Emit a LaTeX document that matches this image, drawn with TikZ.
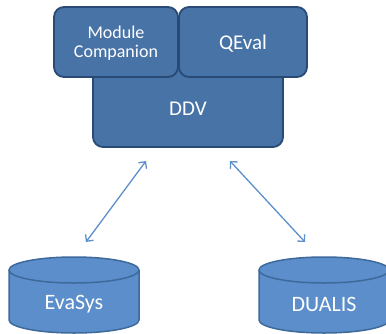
\documentclass[tikz,border=0pt]{standalone}
\usepackage{fontspec}
\setmainfont{Carlito}
\usetikzlibrary{arrows.meta}
\definecolor{boxfill}{RGB}{72,115,166}
\definecolor{boxline}{RGB}{40,74,116}
\definecolor{dbfill}{RGB}{91,142,202}
\definecolor{dbline}{RGB}{62,106,155}
\definecolor{linkcol}{RGB}{92,143,204}
\begin{document}
\begin{tikzpicture}[x=1pt,y=-1pt]
    \tikzset{tool/.style = {draw=boxline,fill=boxfill,line width=1.8pt,rounded corners=10pt}}
    \tikzset{db/.style = {draw=dbline,fill=dbfill,line width=1.5pt}}
    \tikzset{label/.style = {text=white,align=center}}
    \tikzset{link/.style = {{Straight Barb[length=5pt,width=10pt]}-{Straight Barb[length=5pt,width=10pt]},draw=linkcol,line width=1.3pt}}
    \useasboundingbox (0,0) rectangle (386,333);
    % tools
    \draw[tool] (93,62) rectangle (283,147);
    \draw[tool] (54,7) rectangle (178,77);
    \draw[tool] (179,7) rectangle (307,77);
    \node[label,font=\fontsize{18}{19}\selectfont] (mc) at (116,43) {Module\\Companion};
    \node[label,font=\fontsize{21}{24}\selectfont] (qeval) at (243,44) {QEval};
    \node[label,font=\fontsize{21}{24}\selectfont] (ddv) at (188,109) {DDV};
    % databases
    \draw[db] (9,270) -- (9,320) arc[x radius=65,y radius=13,start angle=180,end angle=0] -- (139,270);
    \draw[db] (74,270) ellipse[x radius=65,y radius=13];
    \draw[db] (259,270) -- (259,320) arc[x radius=65,y radius=13,start angle=180,end angle=0] -- (389,270);
    \draw[db] (324,270) ellipse[x radius=65,y radius=13];
    \node[label,font=\fontsize{22}{24}\selectfont] (evasys) at (74,304) {EvaSys};
    \node[label,font=\fontsize{22}{24}\selectfont] (dualis) at (324,304) {DUALIS};
    % links
    \coordinate (ddvL) at (146,161);
    \coordinate (ddvR) at (230,161);
    \coordinate (evaT) at (86,242);
    \coordinate (duaT) at (305,242);
    \draw[link] (ddvL) -- (evaT);
    \draw[link] (ddvR) -- (duaT);
\end{tikzpicture}
\end{document}
